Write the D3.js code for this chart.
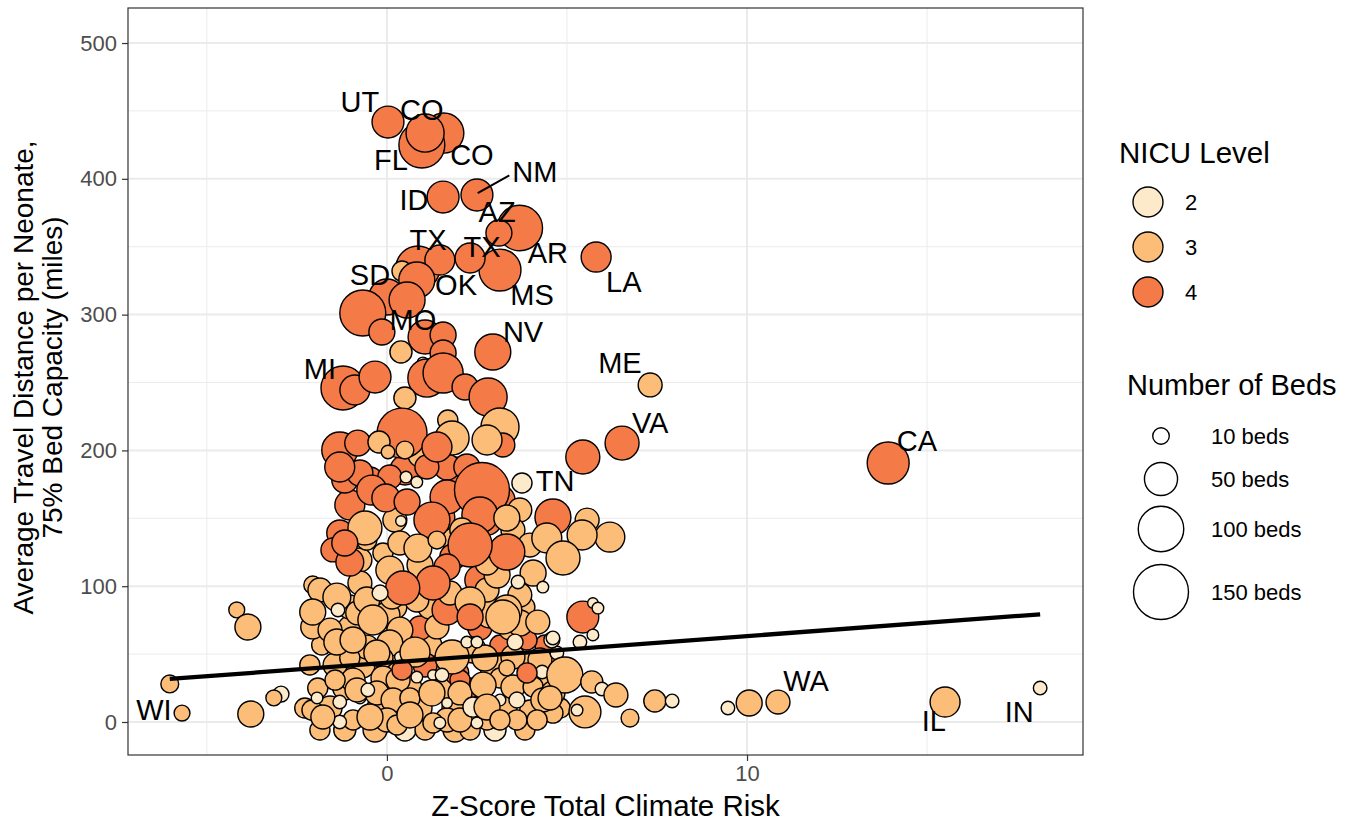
<!DOCTYPE html>
<html><head><meta charset="utf-8">
<script src="https://cdn.jsdelivr.net/npm/d3@7"></script>
<style>
body{margin:0;background:#fff;}
text{font-family:"Liberation Sans",Arial,Helvetica,sans-serif;}
</style></head>
<body><svg id="chart" width="1348" height="825"></svg>
<script>
// ---- data: dense background cluster (drawn first) ----
const climateB = [
-1.86,-1.17,-0.33,0.5,1.06,1.89,2.31,3.0,3.83,
-2.28,-1.58,-0.19,0.92,1.89,3.28,4.81,
-1.92,-1.17,0.64,1.61,2.31,4.39,
-2.14,-1.44,-0.69,0.17,1.47,2.92,3.97,4.67,
-1.81,0.64,1.19,3.14,4.39,
-1.03,0.92,2.58,3.42,
-1.03,0.22,1.19,3.83,
-1.03,0.5,1.89,0.92,-1.17,3.14,3.69,-0.75,0.92,2.58,3.69,1.89,0.22,3.89,-2.06
];
const distanceB = [
-5.9,-5.9,-5.9,-5.9,-5.9,-5.9,-5.9,-5.9,-5.9,
10.3,10.3,10.3,10.3,10.3,10.3,10.3,
25.0,25.0,25.0,25.0,25.0,25.0,
42.0,42.0,42.0,42.0,42.0,42.0,42.0,42.0,
56.7,56.7,56.7,56.7,56.7,
69.2,69.2,69.2,69.2,
84.7,84.7,84.7,84.7,
159.8,185.6,185.6,196.6,178.2,163.5,156.1,119.3,115.6,104.6,93.5,134,148.7,60.4,100.9
];
const bedsB = [
16,20,24,20,16,24,16,20,16,
16,24,29,24,29,24,16,
16,24,24,24,16,20,
16,24,29,24,24,29,24,16,
16,24,24,16,16,
24,24,24,24,
24,24,24,16,
40,40,29,24,29,40,24,24,29,40,24,29,24,16,12
];
const levelB = [
3,3,3,2,3,3,3,2,3,
3,3,3,3,3,3,3,
3,3,3,3,4,3,
3,3,3,3,3,3,3,3,
3,3,3,4,4,
3,4,4,3,
3,3,3,3,
4,4,4,3,4,4,3,3,3,4,3,3,3,4,3
];
// ---- data: individual hospitals ----
const climate = [
-2.06,-1.58,-0.81,0,0.36,1.39,1.67,2.86,3.69,0.08,-0.56,-1.03,-0.11,0.36,1.06,1.94,2.39,3.5,4.25,4.72,4.31,-0.94,-0.11,0.31,0.83,1.28,2.03,3.14,3.5,4.06,4.61,-0.75,-0.28,0.17,0.64,2.03,3.14,3.97,4.61,-2.08,-0.94,0,0.28,1.67,1.28,2.03,2.78,2.5,3.61,1.47,
-1.86,-0.75,-0.56,0.14,0.83,1.75,2.78,3.06,-0.11,0.36,-0.56,-1.31,-1.5,1.83,2.78,3.5,1.47,2.78,3.97,-0.47,-0.75,0.08,1.67,1.11,2.22,
0.03,1.58,0.97,1.06,1.56,2.50,3.69,3.11,0.86,3.14,1.47,2.31,0.42,5.81,0.83,0,0.56,-0.67,-0.14,1.06,1.56,1.56,0.39,1.0,1.11,1.56,2.94,-1.22,-0.89,-0.33,2.17,2.81,0.5,
0.42,1.69,1.81,3.14,3.22,2.78,-1.31,-0.81,-0.22,0.5,0.03,1.39,-1.31,0.53,0.83,-0.42,-0.03,0.56,1.67,2.64,2.58,1.25,3.75,-0.61,0.39,2.08,3.33,-1.03,-1.17,0.86,1.39,2.31,0.08,1.67,1.28,0.44,4.06,4.61,4.44,3.33,
-1.39,-0.19,-1.36,-2.06,2.31,3.33,3.64,2.31,-0.39,3.22,4.19,-1.39,-0.94,-0.28,0.78,0.42,1.81,2.72,3.89,2.22,2.5,3.56,4.58,-1.44,-0.83,-0.53,-1.31,-1.94,1.25,1.67,1.53,2.67,2.39,2.78,3.61,3.33,-0.47,0.64,-1.31,-1.78,3.14,4.33,4.17,
-4.17,-3.86,-6.03,-5.69,-3.78,-2.94,-3.14,
7.31,6.53,5.44,5.56,6.19,5.42,4.89,4.33,5.44,5.72,5.86,4.61,5.72,5.36,4.94,5.69,5.97,6.36,7.44,7.92,6.75,5.5,4.53,5.28,9.47,10.06,10.86,13.92,15.5,18.14
];
const distance = [
70.0,67.7,80.3,78.8,67.7,70.0,82.5,80.3,72.9,58.2,55.2,47.1,47.1,47.9,42.0,36.1,53.0,47.9,45.7,50.8,36.8,30.9,32.4,30.9,33.1,34.6,30.9,32.4,25.8,25.8,21.4,17.7,21.4,16.2,17.7,21.4,16.2,8.8,6.6,8.8,1.5,1.5,-2.2,1.5,-0.7,1.5,1.5,-0.7,1.5,-0.7,
97.2,102.4,89.8,92.0,89.8,95.0,97.2,108.2,124.4,131.8,134.0,139.2,126.7,121.5,117.1,141.4,151.0,148.7,130.3,178.2,183.4,180.4,187.8,187.8,187.8,
441.8,433.7,424.9,433.7,386.6,388.1,363.8,360.1,334.3,332.8,340.2,341.7,332.1,342.4,325.5,313,310.8,301.2,287.2,283.5,285,271.7,272.5,264.4,253.3,257,272.5,246,244.5,254,246.7,239.3,238.6,
212.8,222.4,209.1,217.2,204,207.7,200.3,205.4,206.2,200.3,198.8,202.5,187.8,180.4,176.7,170.8,165,162,165.7,170.8,152.4,148.7,176,142.9,148,141.4,125.2,117.8,131.8,128.1,134,130.3,111.9,114.1,102.4,98.7,109.7,151,135.5,150.2,
92,95,82.5,81,88.4,82.5,103.1,77.3,75.1,77.3,73.6,58.9,60.4,50.8,51.5,38.3,47.9,47.1,36.1,58.9,58.9,58.9,60.4,30.9,23.6,23.6,14.7,17.7,21.4,14,34.6,27.2,11,11,16.2,39.8,3.7,5.2,0,3.7,1.5,16.2,1.5,
82.5,70,28,6.6,5.9,20.6,17.7,
248.2,205.4,195.1,148.7,136.2,137.7,120.8,99.4,77.3,87.6,83.9,61.9,64.1,58.9,34.6,29.5,24.3,19.9,15.5,15.5,2.9,7.4,17.7,8.8,10.3,14,14.7,190.7,14.7,25
];
const beds = [
24,24,24,29,29,24,40,40,29,29,24,16,16,3,24,24,29,24,24,6,6,24,24,24,4,3,16,16,24,16,24,4,24,24,16,24,4,16,16,16,16,24,16,24,16,24,16,4,16,4,
24,24,29,24,24,24,24,29,16,24,16,29,24,29,24,24,40,40,24,29,29,24,29,24,29,
46,76,102,68,46,46,100,29,93,84,40,40,16,40,60,60,60,102,29,53,29,29,20,4,68,76,60,93,40,46,29,68,20,
122,16,53,68,24,40,60,29,20,12,6,40,40,4,4,40,34,29,53,150,60,60,16,53,3,24,60,34,29,34,12,93,34,29,53,53,29,60,40,29,
34,9,6,29,40,40,6,29,40,53,24,29,29,29,40,16,53,29,16,4,4,9,9,16,24,6,6,4,29,3,6,29,16,29,9,9,29,29,6,24,16,24,16,
9,29,12,9,29,9,9,
24,53,53,24,40,40,53,4,46,3,4,6,4,6,60,20,6,24,20,6,12,46,24,4,6,29,24,84,40,6
];
const level = [
3,3,3,3,3,3,4,3,3,3,3,3,3,2,4,4,3,3,3,2,2,3,3,3,2,2,4,3,3,3,3,2,3,3,3,3,2,3,3,3,3,3,3,3,3,3,3,2,3,2,
3,3,3,3,3,3,3,3,3,3,3,4,4,4,3,3,4,4,3,4,4,4,4,4,4,
4,4,4,4,4,4,4,4,4,4,4,4,3,4,4,4,4,4,4,4,4,4,3,2,4,4,4,4,4,4,4,4,3,
4,3,3,3,4,3,4,4,3,3,3,4,4,2,2,4,4,4,4,4,4,4,2,3,2,3,4,4,4,3,3,4,3,4,4,4,3,4,3,3,
3,2,2,3,3,3,2,4,3,3,3,3,3,3,3,4,3,3,4,2,2,2,2,3,3,2,2,2,3,2,2,3,2,3,2,3,3,3,2,3,3,3,3,
3,3,3,3,3,2,3,
3,4,4,3,3,3,3,2,4,2,2,2,2,2,3,3,2,3,3,2,3,3,3,2,2,3,3,4,3,2
];
// state labels (repelled positions, data units)
const labelText = ["UT","CO","FL","CO","NM","ID","AZ","TX","TX","AR","SD","OK","LA","MS","MO","NV","MI","ME","VA","CA","TN","WA","WI","IL","IN"];
const labelX = [-0.75,0.97,0.11,2.36,4.11,0.75,3.06,1.14,2.64,4.47,-0.47,1.92,6.58,4.03,0.72,3.78,-1.86,6.47,7.31,14.72,4.67,11.64,-6.47,15.19,17.56];
const labelY = [456.5,450.7,413.8,417.5,405,384.4,375.6,354.9,349.8,345.4,329.2,321.8,324,314.4,296,287.2,259.9,264.4,220.2,206.9,177.5,30.2,8.8,0.7,7.4];
// repel segment (NM)
const segX = [2.52, 3.40];
const segY = [389.5, 402.5];
// fitted line endpoints
const fitX = [-6.03, 18.14];
const fitY = [31.7, 79.3];
// axes
const xTicks = [0, 10];
const xMinor = [-5, 5, 15];
const yTicks = [0, 100, 200, 300, 400, 500];
const yMinor = [50, 150, 250, 350, 450];
const levels = [2, 3, 4];
const levelColors = ["#FCEACB", "#FBBD78", "#F47A47"];
const bedKeys = [10, 50, 100, 150];

// ---- drawing ----
const svg = d3.select("#chart");
const L = 128, R = 1083, T = 8, B = 755;
const x = d3.scaleLinear().domain([-7.19, 19.33]).range([L, R]);
const y = d3.scaleLinear().domain([-24.3, 525.8]).range([B, T]);
const r = d3.scaleSqrt().domain([0, 150]).range([1.6, 27.5]);
const col = d3.scaleOrdinal().domain(levels).range(levelColors);

svg.append("defs").append("clipPath").attr("id","clip")
  .append("rect").attr("x",L).attr("y",T).attr("width",R-L).attr("height",B-T);

const grid = svg.append("g");
grid.selectAll(".xm").data(xMinor).join("line").attr("class","xm").attr("x1",d=>x(d)).attr("x2",d=>x(d)).attr("y1",T).attr("y2",B).attr("stroke","#EBEBEB").attr("stroke-width",1);
grid.selectAll(".ym").data(yMinor).join("line").attr("class","ym").attr("y1",d=>y(d)).attr("y2",d=>y(d)).attr("x1",L).attr("x2",R).attr("stroke","#EBEBEB").attr("stroke-width",1);
grid.selectAll(".xM").data(xTicks).join("line").attr("class","xM").attr("x1",d=>x(d)).attr("x2",d=>x(d)).attr("y1",T).attr("y2",B).attr("stroke","#EBEBEB").attr("stroke-width",2);
grid.selectAll(".yM").data(yTicks).join("line").attr("class","yM").attr("y1",d=>y(d)).attr("y2",d=>y(d)).attr("x1",L).attr("x2",R).attr("stroke","#EBEBEB").attr("stroke-width",2);

const allX = climateB.concat(climate), allY = distanceB.concat(distance);
const allB = bedsB.concat(beds), allL = levelB.concat(level);
const idx = d3.range(allX.length);
const pts = svg.append("g").attr("clip-path","url(#clip)");
pts.selectAll("circle").data(idx).join("circle")
  .attr("cx",i=>x(allX[i])).attr("cy",i=>y(allY[i])).attr("r",i=>r(allB[i]))
  .attr("fill",i=>col(allL[i])).attr("stroke","#000").attr("stroke-width",1.4);

const line = d3.line().x(d=>x(d[0])).y(d=>y(d[1]));
svg.append("path").datum(d3.zip(fitX,fitY)).attr("d",line).attr("stroke","#000").attr("stroke-width",4.3).attr("fill","none");
svg.append("path").datum(d3.zip(segX,segY)).attr("d",line).attr("stroke","#000").attr("stroke-width",2).attr("fill","none");

svg.append("g").selectAll("text").data(labelText).join("text")
  .attr("x",(d,i)=>x(labelX[i])).attr("y",(d,i)=>y(labelY[i]))
  .attr("text-anchor","middle").attr("dominant-baseline","central")
  .attr("font-size",29).attr("fill","#000").text(d=>d);

svg.append("rect").attr("x",L).attr("y",T).attr("width",R-L).attr("height",B-T).attr("fill","none").attr("stroke","#333").attr("stroke-width",1.2);

// axes
const xAxis = svg.append("g").attr("transform",`translate(0,${B})`)
  .call(d3.axisBottom(x).tickValues(xTicks).tickSize(6).tickPadding(4).tickFormat(d3.format("d")));
const yAxis = svg.append("g").attr("transform",`translate(${L},0)`)
  .call(d3.axisLeft(y).tickValues(yTicks).tickSize(6).tickPadding(5).tickFormat(d3.format("d")));
[xAxis,yAxis].forEach(a=>{
  a.select(".domain").remove();
  a.selectAll(".tick line").attr("stroke","#333").attr("stroke-width",1.2);
  a.selectAll(".tick text").attr("font-size",22).attr("fill","#4D4D4D").attr("font-family","Liberation Sans, Arial, sans-serif");
});

svg.append("text").attr("x",(L+R)/2).attr("y",816).attr("text-anchor","middle").attr("font-size",29.5).text("Z-Score Total Climate Risk");
const yt = svg.append("text").attr("transform",`translate(33,${(T+B)/2 - 4}) rotate(-90)`).attr("text-anchor","middle").attr("font-size",28);
yt.append("tspan").attr("x",0).attr("dy",0).text("Average Travel Distance per Neonate,");
yt.append("tspan").attr("x",0).attr("dy",29).text("75% Bed Capacity (miles)");

// legend: NICU level
const lg = svg.append("g");
lg.append("text").attr("x",1119).attr("y",163).attr("font-size",29.5).text("NICU Level");
const lk = lg.selectAll(".lk").data(levels).join("g").attr("transform",(d,i)=>`translate(1148,${202+i*45})`);
lk.append("circle").attr("r",15).attr("fill",d=>col(d)).attr("stroke","#000").attr("stroke-width",1.4);
lk.append("text").attr("x",37).attr("dominant-baseline","central").attr("font-size",22).text(d=>d);

// legend: beds
lg.append("text").attr("x",1127).attr("y",395).attr("font-size",29).text("Number of Beds");
const bk = [436, 479, 529, 592];
const sk = lg.selectAll(".sk").data(bedKeys).join("g").attr("transform",(d,i)=>`translate(1161,${bk[i]})`);
sk.append("circle").attr("r",d=>r(d)).attr("fill","#fff").attr("stroke","#000").attr("stroke-width",1.4);
sk.append("text").attr("x",50).attr("dominant-baseline","central").attr("font-size",22).text(d=>d+" beds");
</script></body></html>
